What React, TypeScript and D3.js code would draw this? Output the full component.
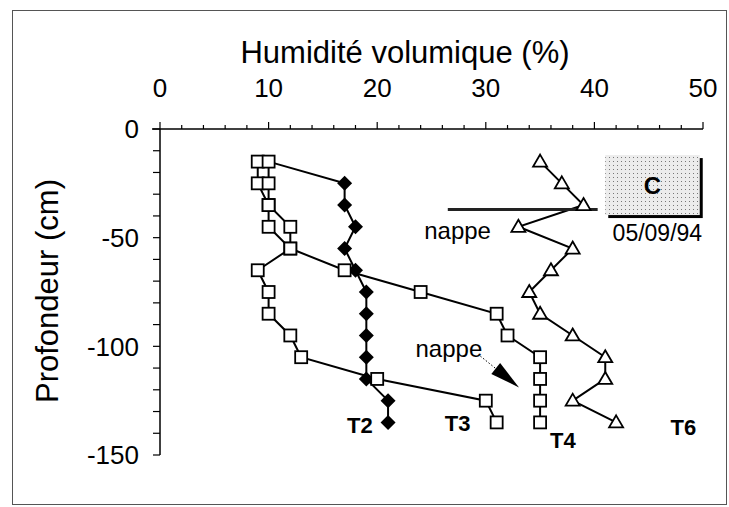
import React, { useEffect, useRef } from 'react';
import * as d3 from 'd3';

// Humidité volumique (%) per depth (cm), profils du 05/09/94
type Pt = { h: number; z: number };

const depthsT2 = [-15, -25, -35, -45, -55, -65, -75, -85, -95, -105, -115, -125, -135];
const humT2 = [10, 17, 17, 18, 17, 18, 19, 19, 19, 19, 19, 21, 21];

const depthsT3 = [-15, -25, -35, -45, -55, -65, -75, -85, -95, -105, -115, -125, -135];
const humT3 = [9, 9, 10, 10, 12, 9, 10, 10, 12, 13, 20, 30, 31];

const depthsT4 = [-15, -25, -35, -45, -55, -65, -75, -85, -95, -105, -115, -125, -135];
const humT4 = [10, 10, 10, 12, 12, 17, 24, 31, 32, 35, 35, 35, 35];

const depthsT6 = [-15, -25, -35, -45, -55, -65, -75, -85, -95, -105, -115, -125, -135];
const humT6 = [35, 37, 39, 33, 38, 36, 34, 35, 38, 41, 41, 38, 42];

const xTicks = [0, 10, 20, 30, 40, 50];
const yTicks = [0, -50, -100, -150];

const zip = (h: number[], z: number[]): Pt[] => h.map((v, i) => ({ h: v, z: z[i] }));

export default function App() {
  const svgRef = useRef<SVGSVGElement>(null);

  useEffect(() => {
    if (!svgRef.current) return;
    const svg = d3.select(svgRef.current);
    svg.selectAll('*').remove();

    const font = 'Arial, "Liberation Sans", Helvetica, sans-serif';

    const x = d3.scaleLinear().domain([0, 50]).range([160, 703]);
    const y = d3.scaleLinear().domain([0, -150]).range([129, 455]);

    const T2 = zip(humT2, depthsT2);
    const T3 = zip(humT3, depthsT3);
    const T4 = zip(humT4, depthsT4);
    const T6 = zip(humT6, depthsT6);

    // stipple pattern for the "C" box
    const defs = svg.append('defs');
    const pat = defs.append('pattern')
      .attr('id', 'dots')
      .attr('width', 4)
      .attr('height', 4)
      .attr('patternUnits', 'userSpaceOnUse');
    pat.append('rect').attr('width', 4).attr('height', 4).attr('fill', '#ececec');
    pat.append('rect').attr('x', 1).attr('y', 1).attr('width', 1).attr('height', 1).attr('fill', '#777');

    // outer frame
    svg.append('rect')
      .attr('x', 12.5).attr('y', 10.5)
      .attr('width', 714).attr('height', 494)
      .attr('fill', 'none')
      .attr('stroke', '#555')
      .attr('stroke-width', 1);

    // title
    svg.append('text')
      .attr('x', 405).attr('y', 63)
      .attr('text-anchor', 'middle')
      .attr('font-family', font)
      .attr('font-size', 31)
      .text('Humidité volumique (%)');

    // y label
    svg.append('text')
      .attr('transform', 'translate(58,291) rotate(-90)')
      .attr('text-anchor', 'middle')
      .attr('font-family', font)
      .attr('font-size', 31)
      .text('Profondeur (cm)');

    // top x axis
    svg.append('line')
      .attr('x1', 152).attr('x2', x(50))
      .attr('y1', y(0)).attr('y2', y(0))
      .attr('stroke', '#000').attr('stroke-width', 1.5);
    d3.range(0, 51, 2).forEach((v) => {
      const major = v % 10 === 0;
      svg.append('line')
        .attr('x1', x(v)).attr('x2', x(v))
        .attr('y1', y(0)).attr('y2', y(0) - (major ? 7 : 4))
        .attr('stroke', '#000').attr('stroke-width', 1.2);
    });
    xTicks.forEach((v) => {
      svg.append('text')
        .attr('x', x(v)).attr('y', 97)
        .attr('text-anchor', 'middle')
        .attr('font-family', font)
        .attr('font-size', 26)
        .text(String(v));
    });

    // left y axis
    svg.append('line')
      .attr('x1', x(0)).attr('x2', x(0))
      .attr('y1', y(0)).attr('y2', y(-150))
      .attr('stroke', '#000').attr('stroke-width', 1.5);
    d3.range(0, -151, -10).forEach((v) => {
      svg.append('line')
        .attr('x1', x(0)).attr('x2', x(0) - 7)
        .attr('y1', y(v)).attr('y2', y(v))
        .attr('stroke', '#000').attr('stroke-width', 1.2);
    });
    yTicks.forEach((v) => {
      svg.append('text')
        .attr('x', 139).attr('y', y(v))
        .attr('dy', '0.36em')
        .attr('text-anchor', 'end')
        .attr('font-family', font)
        .attr('font-size', 26)
        .text(String(v));
    });

    const line = d3.line<Pt>().x((d) => x(d.h)).y((d) => y(d.z));
    [T2, T3, T4, T6].forEach((s) => {
      svg.append('path')
        .datum(s)
        .attr('d', line)
        .attr('fill', 'none')
        .attr('stroke', '#000')
        .attr('stroke-width', 2);
    });

    // upper water table mark
    svg.append('line')
      .attr('x1', x(26.5)).attr('x2', x(40.3))
      .attr('y1', y(-37)).attr('y2', y(-37))
      .attr('stroke', '#222').attr('stroke-width', 3);

    // squares overlap spot check
    const squareKeys = new Set([...T3, ...T4].map((d) => `${d.h}|${d.z}`));

    // diamonds T2
    svg.selectAll('.dia')
      .data(T2.filter((d) => !squareKeys.has(`${d.h}|${d.z}`)))
      .enter()
      .append('path')
      .attr('d', 'M0,-7.5L7.5,0L0,7.5L-7.5,0Z')
      .attr('transform', (d) => `translate(${x(d.h)},${y(d.z)})`)
      .attr('fill', '#000');

    // squares T3, T4
    [T3, T4].forEach((s) => {
      svg.append('g')
        .selectAll('rect')
        .data(s)
        .enter()
        .append('rect')
        .attr('x', (d) => x(d.h) - 6)
        .attr('y', (d) => y(d.z) - 6)
        .attr('width', 12)
        .attr('height', 12)
        .attr('fill', '#fff')
        .attr('stroke', '#000')
        .attr('stroke-width', 1.8);
    });

    // triangles T6
    svg.selectAll('.tri')
      .data(T6)
      .enter()
      .append('path')
      .attr('d', 'M0,-7L7,5L-7,5Z')
      .attr('transform', (d) => `translate(${x(d.h)},${y(d.z)})`)
      .attr('fill', '#fff')
      .attr('stroke', '#000')
      .attr('stroke-width', 1.8);

    // series labels
    const labels = [
      { t: 'T2', h: 18.4, z: -136.4 },
      { t: 'T3', h: 27.4, z: -135.5 },
      { t: 'T4', h: 37.1, z: -143.3 },
      { t: 'T6', h: 48.2, z: -137.3 },
    ];
    labels.forEach((l) => {
      svg.append('text')
        .attr('x', x(l.h)).attr('y', y(l.z))
        .attr('dy', '0.36em')
        .attr('text-anchor', 'middle')
        .attr('font-family', font)
        .attr('font-weight', 'bold')
        .attr('font-size', 22)
        .text(l.t);
    });

    // nappe labels
    [{ h: 27.4, z: -47.5 }, { h: 26.6, z: -101.8 }].forEach((n) => {
      svg.append('text')
        .attr('x', x(n.h)).attr('y', y(n.z))
        .attr('dy', '0.3em')
        .attr('text-anchor', 'middle')
        .attr('font-family', font)
        .attr('font-size', 24)
        .text('nappe');
    });

    // lower nappe arrow
    const tip: [number, number] = [x(33.06), y(-118.9)];
    const start: [number, number] = [x(29.5), y(-104.5)];
    const dx = tip[0] - start[0];
    const dy = tip[1] - start[1];
    const len = Math.hypot(dx, dy);
    const ux = dx / len;
    const uy = dy / len;
    const bc: [number, number] = [tip[0] - 30 * ux, tip[1] - 30 * uy];
    svg.append('line')
      .attr('x1', start[0]).attr('y1', start[1])
      .attr('x2', bc[0]).attr('y2', bc[1])
      .attr('stroke', '#000')
      .attr('stroke-width', 1)
      .attr('stroke-dasharray', '1.5,2');
    svg.append('path')
      .attr('d', `M${tip[0]},${tip[1]}L${bc[0] - 7 * uy},${bc[1] + 7 * ux}L${bc[0] + 7 * uy},${bc[1] - 7 * ux}Z`)
      .attr('fill', '#000');

    // "C" box with shadow
    const bx0 = x(41.0), bx1 = x(49.7), by0 = y(-12), by1 = y(-39.6);
    svg.append('rect')
      .attr('x', bx0 + 3).attr('y', by0 + 3)
      .attr('width', bx1 - bx0).attr('height', by1 - by0)
      .attr('fill', '#000');
    svg.append('rect')
      .attr('x', bx0).attr('y', by0)
      .attr('width', bx1 - bx0).attr('height', by1 - by0)
      .attr('fill', 'url(#dots)');
    svg.append('text')
      .attr('x', (bx0 + bx1) / 2).attr('y', (by0 + by1) / 2)
      .attr('dy', '0.36em')
      .attr('text-anchor', 'middle')
      .attr('font-family', font)
      .attr('font-weight', 'bold')
      .attr('font-size', 24)
      .text('C');
    svg.append('text')
      .attr('x', x(45.8)).attr('y', y(-47.9))
      .attr('dy', '0.36em')
      .attr('text-anchor', 'middle')
      .attr('font-family', font)
      .attr('font-size', 23)
      .text('05/09/94');
  }, []);

  return (
    <svg
      ref={svgRef}
      width={729}
      height={507}
      style={{ position: 'absolute', left: 0, top: 0, background: '#fff' }}
    />
  );
}
